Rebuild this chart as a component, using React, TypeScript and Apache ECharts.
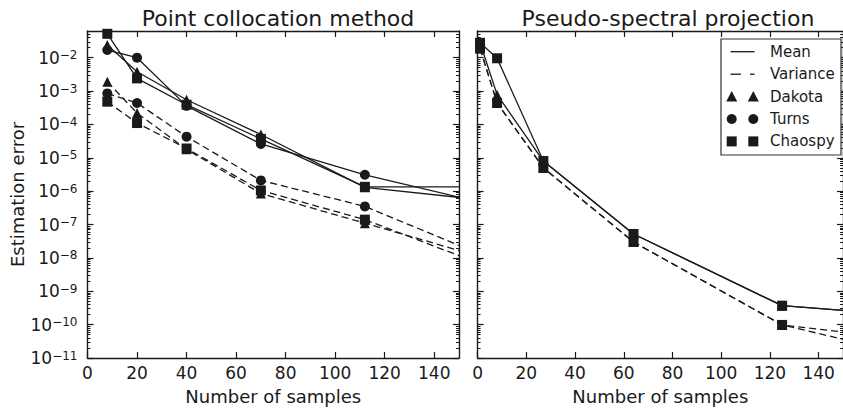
import React, { useEffect, useRef } from "react";
import * as echarts from "echarts";

// ---------- data ----------
const xTickValues = [0, 20, 40, 60, 80, 100, 120, 140];
const yMajorExponents = [-11, -10, -9, -8, -7, -6, -5, -4, -3, -2];

// Point collocation method
const collocationSamples = [8, 20, 40, 70, 112, 168];
const collocationDakotaMean = [0.024, 3.8e-3, 5.5e-4, 5.0e-5, 1.3e-6, 4.7e-7];
const collocationTurnsMean = [0.017, 1.0e-2, 3.6e-4, 2.6e-5, 3.1e-6, 3.2e-7];
const collocationChaospyMean = [0.052, 2.4e-3, 3.9e-4, 3.7e-5, 1.35e-6, 1.35e-6];
const collocationDakotaVar = [1.9e-3, 2.2e-4, 1.8e-5, 8.5e-7, 1.1e-7, 6.8e-9];
const collocationTurnsVar = [8.5e-4, 4.4e-4, 4.3e-5, 2.1e-6, 3.5e-7, 6.6e-9];
const collocationChaospyVar = [4.8e-4, 1.1e-4, 1.9e-5, 1.05e-6, 1.4e-7, 3.6e-9];

// Pseudo-spectral projection
const spectralSamples = [1, 8, 27, 64, 125, 216];
const spectralDakotaMean = [0.028, 7.8e-4, 8e-6, 5.2e-8, 3.7e-10, 1.15e-10];
const spectralChaospyMean = [0.028, 9.6e-3, 8e-6, 5.2e-8, 3.7e-10, 1.15e-10];
const spectralDakotaVar = [0.019, 4.4e-4, 5e-6, 3e-8, 9.8e-11, 2.7e-12];
const spectralChaospyVar = [0.019, 4.4e-4, 5e-6, 3e-8, 9.8e-11, 1.7e-11];

const titles = ["Point collocation method", "Pseudo-spectral projection"];
const legendLabels = ["Mean", "Variance", "Dakota", "Turns", "Chaospy"];

// ---------- style ----------
const FONT = "'DejaVu Sans', 'Liberation Sans', sans-serif";
const INK = "#1a1a1a";
const Y_MIN = 1e-11;
const Y_MAX = Math.pow(10, -1.2);
const X_MIN = 0;
const X_MAX = 150;

const majorVals = yMajorExponents.map((e) => parseFloat(`1e${e}`));
const minorVals: number[] = [];
yMajorExponents.forEach((e) => {
  for (let k = 2; k <= 9; k++) {
    const v = parseFloat(`${k}e${e}`);
    if (v < Y_MAX) minorVals.push(v);
  }
});

function xAxes(gridIndex: number, withName: boolean) {
  const common = {
    type: "value",
    gridIndex,
    min: X_MIN,
    max: X_MAX,
    splitLine: { show: false },
    axisLine: { show: true, onZero: false, lineStyle: { color: INK, width: 1.4 } },
  };
  return [
    {
      ...common,
      position: "bottom",
      name: withName ? "Number of samples" : "",
      nameLocation: "middle",
      nameGap: 29,
      nameTextStyle: { fontFamily: FONT, fontSize: 18, color: INK },
      axisTick: { show: true, inside: true, length: 6, customValues: xTickValues, lineStyle: { color: INK, width: 1.2 } },
      axisLabel: { show: true, margin: 6, customValues: xTickValues, fontFamily: FONT, fontSize: 17, color: INK },
    },
    {
      ...common,
      position: "top",
      axisTick: { show: true, inside: true, length: 6, customValues: xTickValues, lineStyle: { color: INK, width: 1.2 } },
      axisLabel: { show: false },
    },
  ];
}

function yAxes(gridIndex: number, showLabels: boolean) {
  const common = {
    type: "log",
    logBase: 10,
    gridIndex,
    min: Y_MIN,
    max: Y_MAX,
    splitLine: { show: false },
  };
  const axes: any[] = [];
  ["left", "right"].forEach((pos) => {
    axes.push({
      ...common,
      position: pos,
      name: pos === "left" && showLabels ? "Estimation error" : "",
      nameLocation: "middle",
      nameGap: 60,
      nameTextStyle: { fontFamily: FONT, fontSize: 18, color: INK },
      axisLine: { show: true, onZero: false, lineStyle: { color: INK, width: 1.4 } },
      axisTick: { show: true, inside: true, length: 6, customValues: majorVals, lineStyle: { color: INK, width: 1.2 } },
      axisLabel: {
        show: pos === "left" && showLabels,
        customValues: majorVals,
        margin: 10,
        formatter: (v: number) => {
          const e = Math.round(Math.log10(v));
          return `{b|10}{s|\u2212${Math.abs(e)}}`;
        },
        rich: {
          b: { fontFamily: FONT, fontSize: 17, lineHeight: 17, color: INK, padding: [4, 0, 4, 0] },
          s: { fontFamily: FONT, fontSize: 12, lineHeight: 12, color: INK, verticalAlign: "top" },
        },
      },
    });
    axes.push({
      ...common,
      position: pos,
      axisLine: { show: false, onZero: false },
      axisTick: { show: true, inside: true, length: 3, customValues: minorVals, lineStyle: { color: INK, width: 1 } },
      axisLabel: { show: false },
    });
  });
  return axes;
}

function lineSeries(
  name: string,
  xs: number[],
  ys: number[],
  symbol: string,
  dashed: boolean,
  xAxisIndex: number,
  yAxisIndex: number
) {
  return {
    type: "line",
    name,
    data: xs.map((x, i) => [x, ys[i]]),
    xAxisIndex,
    yAxisIndex,
    symbol,
    symbolSize: 10,
    showSymbol: true,
    clip: true,
    lineStyle: { color: INK, width: 1.3, type: dashed ? [7, 4] : "solid" },
    itemStyle: { color: INK, borderWidth: 0 },
    emphasis: { disabled: true },
  };
}

function legendGraphics() {
  const x0 = 721;
  const y0 = 39;
  const rows = [51.7, 74.2, 96.6, 119, 141.4];
  const s1 = 731.7;
  const s2 = 753.3;
  const els: any[] = [
    {
      type: "rect",
      shape: { x: x0, y: y0, width: 120, height: 116 },
      style: { fill: "#ffffff", stroke: "#333333", lineWidth: 1.2 },
      z: 100,
    },
    {
      type: "line",
      shape: { x1: 730.5, y1: rows[0], x2: 754.5, y2: rows[0] },
      style: { stroke: INK, lineWidth: 1.3 },
      z: 101,
    },
    {
      type: "line",
      shape: { x1: 730.5, y1: rows[1], x2: 741, y2: rows[1] },
      style: { stroke: INK, lineWidth: 1.3 },
      z: 101,
    },
    {
      type: "line",
      shape: { x1: 750, y1: rows[1], x2: 754.5, y2: rows[1] },
      style: { stroke: INK, lineWidth: 1.3 },
      z: 101,
    },
  ];
  [s1, s2].forEach((cx) => {
    els.push({
      type: "polygon",
      shape: { points: [[cx - 5.5, rows[2] + 5], [cx + 5.5, rows[2] + 5], [cx, rows[2] - 5.5]] },
      style: { fill: INK },
      z: 101,
    });
    els.push({ type: "circle", shape: { cx, cy: rows[3], r: 5 }, style: { fill: INK }, z: 101 });
    els.push({ type: "rect", shape: { x: cx - 5, y: rows[4] - 5, width: 10, height: 10 }, style: { fill: INK }, z: 101 });
  });
  legendLabels.forEach((t, i) => {
    els.push({
      type: "text",
      x: 770,
      y: rows[i],
      style: { text: t, fontFamily: FONT, fontSize: 15, fill: INK, verticalAlign: "middle", align: "left" },
      z: 101,
    });
  });
  return els;
}

export default function App() {
  const ref = useRef<HTMLDivElement>(null);
  useEffect(() => {
    if (!ref.current) return;
    const chart = echarts.init(ref.current, undefined, { renderer: "svg" });
    const option: any = {
      animation: false,
      backgroundColor: "#ffffff",
      title: [
        { text: titles[0], left: 273, textAlign: "center", top: 2, textStyle: { fontFamily: FONT, fontSize: 22, fontWeight: "normal", color: INK } },
        { text: titles[1], left: 663, textAlign: "center", top: 2, textStyle: { fontFamily: FONT, fontSize: 22, fontWeight: "normal", color: INK } },
      ],
      grid: [
        { left: 87.5, top: 31, width: 371.5, height: 330 },
        { left: 477.6, top: 31, width: 370.5, height: 330 },
      ],
      xAxis: [...xAxes(0, true), ...xAxes(1, true)],
      yAxis: [...yAxes(0, true), ...yAxes(1, false)],
      series: [
        lineSeries("Dakota mean", collocationSamples, collocationDakotaMean, "triangle", false, 0, 0),
        lineSeries("Turns mean", collocationSamples, collocationTurnsMean, "circle", false, 0, 0),
        lineSeries("Chaospy mean", collocationSamples, collocationChaospyMean, "rect", false, 0, 0),
        lineSeries("Dakota variance", collocationSamples, collocationDakotaVar, "triangle", true, 0, 0),
        lineSeries("Turns variance", collocationSamples, collocationTurnsVar, "circle", true, 0, 0),
        lineSeries("Chaospy variance", collocationSamples, collocationChaospyVar, "rect", true, 0, 0),
        lineSeries("Dakota mean (spectral)", spectralSamples, spectralDakotaMean, "triangle", false, 2, 4),
        lineSeries("Dakota variance (spectral)", spectralSamples, spectralDakotaVar, "triangle", true, 2, 4),
        lineSeries("Chaospy mean (spectral)", spectralSamples, spectralChaospyMean, "rect", false, 2, 4),
        lineSeries("Chaospy variance (spectral)", spectralSamples, spectralChaospyVar, "rect", true, 2, 4),
      ],
      graphic: legendGraphics(),
    };
    chart.setOption(option);
    return () => chart.dispose();
  }, []);
  return (
    <div
      ref={ref}
      style={{ position: "absolute", left: 0, top: 0, width: 843, height: 410 }}
    />
  );
}
